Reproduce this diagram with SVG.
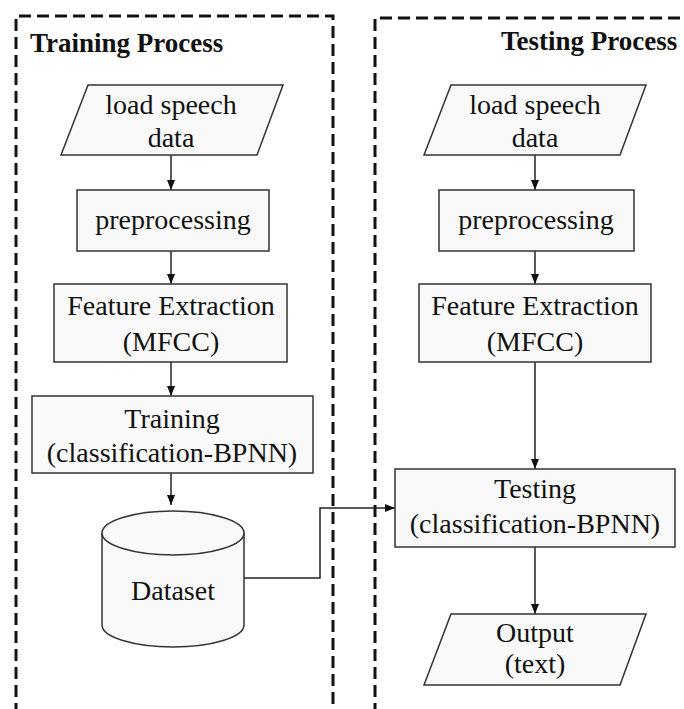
<svg xmlns="http://www.w3.org/2000/svg" width="684" height="709" viewBox="0 0 684 709">
<defs>
<marker id="arr" markerWidth="10" markerHeight="8" refX="10" refY="4" orient="auto" markerUnits="userSpaceOnUse">
<path d="M0,0 L10,4 L0,8 z" fill="#111"/>
</marker>
<style>
.frame{fill:none;stroke:#111;stroke-width:3;stroke-dasharray:12 6}
.box{fill:#f9f9f9;stroke:#333;stroke-width:1.5}
.t{font-family:"Liberation Serif","DejaVu Serif",serif;font-size:28px;fill:#111;text-anchor:middle}
.title{font-family:"Liberation Serif","DejaVu Serif",serif;font-size:27px;font-weight:bold;fill:#111}
.c{fill:none;stroke:#222;stroke-width:1.5}
</style>
</defs>
<rect width="684" height="709" fill="#fff"/>
<g id="training-frame">
<path class="frame" d="M16,715 V16 H333 V715"/>
<text class="title" x="30" y="52">Training Process</text>
</g>
<g id="testing-frame">
<path class="frame" d="M375,715 V18 H700"/>
<text class="title" x="501" y="50">Testing Process</text>
</g>
<g id="connectors">
<path class="c" d="M171,155 V190" marker-end="url(#arr)"/>
<path class="c" d="M171,251 V284" marker-end="url(#arr)"/>
<path class="c" d="M171,362 V396" marker-end="url(#arr)"/>
<path class="c" d="M171,473 V505" marker-end="url(#arr)"/>
<path class="c" d="M244,578 H320 V508 H395" marker-end="url(#arr)"/>
<path class="c" d="M535,155 V190" marker-end="url(#arr)"/>
<path class="c" d="M535,251 V284" marker-end="url(#arr)"/>
<path class="c" d="M535,362 V469" marker-end="url(#arr)"/>
<path class="c" d="M535,547 V614" marker-end="url(#arr)"/>
</g>
<g id="train-load">
<polygon class="box" points="88,85 283,85 257,155 61,155"/>
<text class="t" x="171" y="114">load speech</text>
<text class="t" x="171" y="147">data</text>
</g>
<g id="train-pre">
<rect class="box" x="77" y="190" width="192" height="61"/>
<text class="t" x="173" y="229">preprocessing</text>
</g>
<g id="train-fe">
<rect class="box" x="54" y="284" width="233" height="78"/>
<text class="t" x="171" y="315">Feature Extraction</text>
<text class="t" x="171" y="351">(MFCC)</text>
</g>
<g id="train-bpnn">
<rect class="box" x="32" y="396" width="281" height="77"/>
<text class="t" x="172" y="428">Training</text>
<text class="t" x="172" y="462">(classification-BPNN)</text>
</g>
<g id="dataset">
<path class="box" d="M102,533 V625 A71,22 0 0 0 244,625 V533"/>
<ellipse class="box" cx="173" cy="533" rx="71" ry="22"/>
<text class="t" x="173" y="600">Dataset</text>
</g>
<g id="test-load">
<polygon class="box" points="451,85 646,85 620,155 424,155"/>
<text class="t" x="535" y="114">load speech</text>
<text class="t" x="535" y="147">data</text>
</g>
<g id="test-pre">
<rect class="box" x="439" y="190" width="195" height="61"/>
<text class="t" x="536" y="229">preprocessing</text>
</g>
<g id="test-fe">
<rect class="box" x="419" y="284" width="232" height="78"/>
<text class="t" x="535" y="315">Feature Extraction</text>
<text class="t" x="535" y="351">(MFCC)</text>
</g>
<g id="test-bpnn">
<rect class="box" x="395" y="469" width="280" height="78"/>
<text class="t" x="535" y="498">Testing</text>
<text class="t" x="535" y="533">(classification-BPNN)</text>
</g>
<g id="output">
<polygon class="box" points="451,614 646,614 620,685 424,685"/>
<text class="t" x="535" y="642">Output</text>
<text class="t" x="535" y="673">(text)</text>
</g>
</svg>
